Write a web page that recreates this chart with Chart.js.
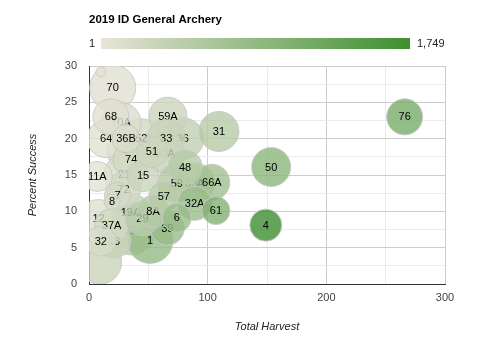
<!DOCTYPE html>
<html><head><meta charset="utf-8">
<script src="https://cdn.jsdelivr.net/npm/chart.js@4"></script>
<style>html,body{margin:0;padding:0;background:#fff}#wrap{position:relative;width:500px;height:353px}</style>
</head><body><div id="wrap"><canvas id="c" width="500" height="353"></canvas></div>
<script>
// ---- data ----
const chartTitle = '2019 ID General Archery';
const xTitle = 'Total Harvest';
const yTitle = 'Percent Success';
const units    = ['70','','68','10A','64','36B','52','33','36','59A','31','44','51','60A','74','48','50','76','66A','11A','21','15','59','63A','72','7','8','57','32A','61','8A','19A','29','12','6','39','37A','4','22','1','32','43',''];
const harvest  = [20,10,18.5,27,14.5,31.2,44,65,79,66.5,109.5,33,53,64,35.5,81,153.5,266,103.5,7,29.5,45.5,74,89,29,24,19.5,63,89,107,54,35,45,8,74,66,19,149,35.4,51.5,10,21,9];
const success  = [27,29.2,23,22.2,20,20,20,20,20,23.1,21,18.3,18.2,18,17.1,16.1,16.1,23,14,14.8,15.1,14.9,13.9,13.9,13,12.2,11.3,12,11.1,10.1,10,9.9,9,9,9.1,7.7,8,8.1,7.3,6,5.9,5.9,3];
const hunters  = [74,34,80,129,72,148,220,325,395,288,521,180,291,355,208,503,956,1157,739,47,188,305,532,640,223,197,173,525,802,1059,540,354,500,89,813,833,237,1749,486,858,170,356,300];
const sizeVals = [72,0,52,60,56,36,60,56,64,56,60,64,44,60,52,48,58,52,52,40,60,44,56,60,48,32,12,40,48,36,44,56,48,56,38,48,48,44,76,72,40,48,68];
const xTickVals = [0,100,200,300];
const yTickVals = [0,5,10,15,20,25,30];
const colorMin = 1, colorMax = 1749;
const colorLabels = ['1','1,749'];

// ---- styling helpers ----
const C0 = [232,228,216], C1 = [61,143,47];
function mix(t){ return C0.map((v,i)=>Math.round(v+(C1[i]-v)*t)); }
function colorFor(h){
  const t = Math.max(0, Math.min(1, (h-colorMin)/(colorMax-colorMin)));
  const c = mix(t);
  return `rgba(${c[0]},${c[1]},${c[2]},0.8)`;
}
function radiusFor(s){ return 5 + s*0.25; }
const FONT = "'Liberation Sans', Arial, sans-serif";
Chart.defaults.font.family = FONT;

const datasets = units.map((u,i)=>({
  label: u,
  data: [{x: harvest[i], y: success[i], r: radiusFor(sizeVals[i])}],
  backgroundColor: colorFor(hunters[i]),
  borderColor: 'rgba(200,200,200,0.9)',
  borderWidth: 1,
  order: sizeVals[i],
  clip: 0
}));

const labelPlugin = {
  id: 'bubbleLabels',
  afterDatasetDraw(chart, args){
    const ds = chart.data.datasets[args.index];
    if (!ds.label) return;
    const el = args.meta.data[0];
    const ctx = chart.ctx;
    ctx.save();
    ctx.font = '11px ' + FONT;
    ctx.fillStyle = '#000';
    ctx.textAlign = 'center';
    ctx.textBaseline = 'middle';
    ctx.fillText(ds.label, el.x, el.y + 0.5);
    ctx.restore();
  }
};

const headerPlugin = {
  id: 'header',
  afterDraw(chart){
    const ctx = chart.ctx;
    ctx.save();
    ctx.fillStyle = '#000';
    ctx.font = 'bold 11.5px ' + FONT;
    ctx.textBaseline = 'middle';
    ctx.textAlign = 'left';
    ctx.fillText(chartTitle, 89, 20);
    // colour axis
    const x0 = 101, x1 = 410, y0 = 38, h = 11;
    const g = ctx.createLinearGradient(x0,0,x1,0);
    const a = mix(0), b = mix(1);
    g.addColorStop(0, `rgb(${a})`);
    g.addColorStop(1, `rgb(${b})`);
    ctx.fillStyle = g;
    ctx.fillRect(x0, y0, x1-x0, h);
    ctx.fillStyle = '#222';
    ctx.font = '11px ' + FONT;
    ctx.textAlign = 'left';
    ctx.fillText(colorLabels[0], 89, y0 + h/2 + 0.5);
    ctx.fillText(colorLabels[1], 417, y0 + h/2 + 0.5);
    ctx.restore();
  }
};

new Chart(document.getElementById('c'), {
  type: 'bubble',
  data: { datasets },
  plugins: [labelPlugin, headerPlugin],
  options: {
    responsive: false,
    animation: false,
    events: [],
    layout: { padding: { top: 66, right: 55, bottom: 0, left: 0 } },
    plugins: { legend: { display: false }, title: { display: false }, tooltip: { enabled: false } },
    scales: {
      x: {
        type: 'linear', min: xTickVals[0], max: xTickVals[xTickVals.length-1],
        afterFit(s){ s.height = 69; },
        ticks: { stepSize: 50, autoSkip: false, padding: 7, color: '#444', font: { size: 11 },
          callback: v => (xTickVals.includes(v) ? String(v) : '') },
        grid: { drawTicks: false, color: c => (c.tick && xTickVals.includes(c.tick.value)) ? '#cccccc' : '#ebebeb' },
        border: { color: '#333', width: 1 },
        title: { display: true, text: xTitle, color: '#222', font: { size: 11, style: 'italic' }, padding: { top: 0, bottom: 19 } }
      },
      y: {
        type: 'linear', min: yTickVals[0], max: yTickVals[yTickVals.length-1],
        afterFit(s){ s.width = 89; },
        ticks: { stepSize: 2.5, autoSkip: false, padding: 12, color: '#444', font: { size: 11 },
          callback: v => (yTickVals.includes(v) ? String(v) : '') },
        grid: { drawTicks: false, color: c => (c.tick && yTickVals.includes(c.tick.value)) ? '#cccccc' : '#ebebeb' },
        border: { color: '#333', width: 1 },
        title: { display: true, text: yTitle, color: '#222', font: { size: 11, style: 'italic' }, padding: { top: 26, bottom: 0 } }
      }
    }
  }
});
</script>
</body></html>
